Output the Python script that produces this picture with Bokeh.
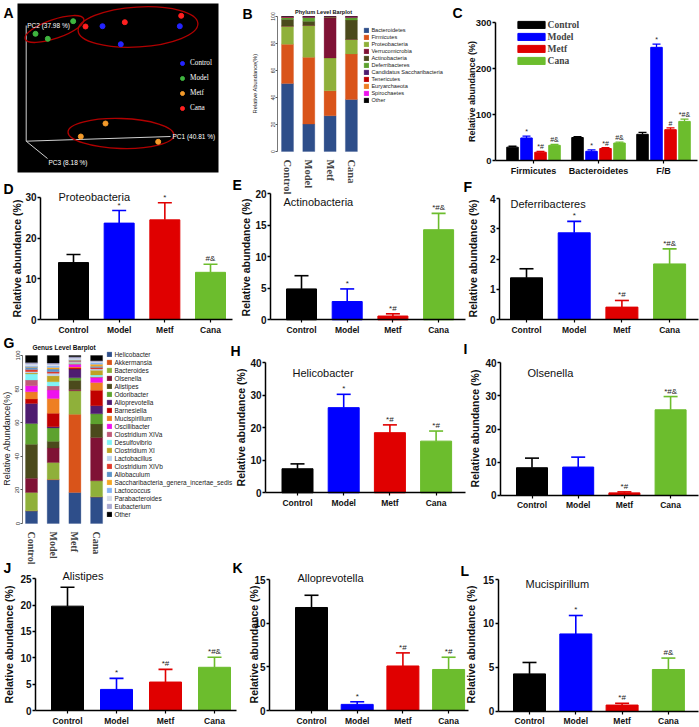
import math
from bokeh.plotting import figure
from bokeh.models import (Range1d, FixedTicker, Label, Legend, LegendItem, ColumnDataSource,
                          LinearAxis)
from bokeh.embed import file_html
from bokeh.resources import INLINE
from bokeh.core.properties import value

SANS = "Liberation Sans"
SERIF = "Liberation Serif"

# ---------------- data ----------------
groups = ["Control", "Model", "Metf", "Cana"]
group_colors = ["#000000", "#0000ff", "#e00000", "#6cbd2d"]

# A: PCoA (projected PC1/PC2/PC3 view)
pcoa_control_x = [76.3, 153.6, 94.6]
pcoa_control_y = [115.0, 115.0, 97.0]
pcoa_model_x = [47.0, 9.3, 21.6]
pcoa_model_y = [120.0, 107.4, 102.4]
pcoa_metf_x = [79.3, 54.6, 132.0]
pcoa_metf_y = [17.7, 4.7, -0.6]
pcoa_cana_x = [59.3, 98.6, 155.0]
pcoa_cana_y = [114.7, 119.0, 125.4]
pcoa_colors = ["#2424ff", "#3fb43f", "#f39a2a", "#ff2020"]
pc_axis_labels = ["PC1 (40.81 %)", "PC2 (37.98 %)", "PC3 (8.18 %)"]
pc_axis_end_x = [144.3, 0.0, 21.3]
pc_axis_end_y = [4.7, 115.7, -17.3]
ellipse_x = [28.3, 111.8, 94.8]
ellipse_y = [112.2, 114.2, 7.7]
ellipse_w = [62, 120, 106]
ellipse_h = [19, 40, 30]
ellipse_angle = [0.33, 0.06, -0.03]

# B: phylum level
phylum_names = ["Bacteroidetes", "Firmicutes", "Proteobacteria", "Verrucomicrobia",
                "Actinobacteria", "Deferribacteres", "Candidatus Saccharibacteria",
                "Tenericutes", "Euryarchaeota", "Spirochaetes", "Other"]
phylum_colors = ["#2e4e8a", "#d9541a", "#8fb03a", "#7f1235", "#4b4a1c", "#5da22e",
                 "#4e1c70", "#c00000", "#ee7f22", "#ee12ee", "#000000"]
phylum_control = [50.3, 29.2, 13.3, 0.2, 5.0, 1.2, 0.3, 0.1, 0.05, 0.05, 0.3]
phylum_model = [20.3, 49.5, 23.5, 0.2, 3.0, 2.8, 0.4, 0.1, 0.05, 0.05, 0.1]
phylum_metf = [26.5, 18.5, 24.3, 29.5, 0.5, 0.4, 0.1, 0.05, 0.05, 0.0, 0.1]
phylum_cana = [38.6, 33.7, 10.7, 0.1, 14.3, 1.8, 0.5, 0.1, 0.05, 0.05, 0.1]

# C
c_categories = ["Firmicutes", "Bacteroidetes", "F/B"]
c_control = [29, 50, 57]
c_model = [49, 20, 246]
c_metf = [18, 26, 67]
c_cana = [33, 38, 85]
c_control_err = [2, 2, 4]
c_model_err = [4, 3, 7]
c_metf_err = [2, 2, 4]
c_cana_err = [2, 2, 5]
c_control_sig = ["", "", ""]
c_model_sig = ["*", "*", "*"]
c_metf_sig = ["*#", "*#", "#"]
c_cana_sig = ["#&", "#&", "*#&"]

# single taxon panels (mean, SEM, significance marks)
proteo_mean = [14.0, 23.7, 24.5, 11.6]
proteo_err = [2.0, 3.1, 4.2, 2.0]
proteo_sig = ["", "*", "*", "#&"]
actino_mean = [4.9, 2.9, 0.6, 14.3]
actino_err = [2.1, 2.0, 0.35, 2.6]
actino_sig = ["", "*", "*#", "*#&"]
defer_mean = [1.38, 2.87, 0.41, 1.84]
defer_err = [0.30, 0.38, 0.22, 0.50]
defer_sig = ["", "*", "*#", "*#&"]
helico_mean = [7.4, 26.2, 18.5, 15.9]
helico_err = [1.5, 4.1, 2.4, 3.1]
helico_sig = ["", "*", "*#", "*#"]
olsen_mean = [8.3, 8.5, 0.7, 25.8]
olsen_err = [2.9, 3.0, 0.3, 4.0]
olsen_sig = ["", "", "*#", "*#&"]
alis_mean = [19.8, 4.0, 5.4, 8.2]
alis_err = [3.6, 2.1, 2.4, 1.9]
alis_sig = ["", "*", "*#", "*#&"]
allop_mean = [11.8, 0.7, 5.1, 4.7]
allop_err = [1.4, 0.3, 1.5, 1.4]
allop_sig = ["", "*", "*#", "*#"]
mucis_mean = [4.25, 8.8, 0.7, 4.75]
mucis_err = [1.3, 2.1, 0.2, 1.3]
mucis_sig = ["", "*", "*#", "#&"]

# G: genus level
genus_names = ["Helicobacter", "Akkermansia", "Bacteroides", "Olsenella", "Alistipes",
               "Odoribacter", "Alloprevotella", "Barnesiella", "Mucispirillum", "Oscillibacter",
               "Clostridium XIVa", "Desulfovibrio", "Clostridium XI", "Lactobacillus",
               "Clostridium XIVb", "Allobaculum", "Saccharibacteria_genera_incertae_sedis",
               "Lactococcus", "Parabacteroides", "Eubacterium", "Other"]
genus_colors = ["#2e4e8a", "#d9541a", "#8fb03a", "#7f1235", "#4b4a1c", "#5da22e", "#4e1c70",
                "#c00000", "#ee7f22", "#ee12ee", "#c05a78", "#80f2f6", "#bfa324", "#bad3ee",
                "#e0382a", "#5b93c9", "#f5a623", "#86b5f5", "#d6dce8", "#a8a8d0", "#000000"]
genus_control = [7.5, 0.1, 10.9, 8.5, 20.2, 12.3, 12.0, 2.6, 4.3, 3.6, 3.4, 3.6, 0.6, 0.8,
                 1.2, 1.4, 0.3, 0.6, 1.0, 0.9, 4.2]
genus_model = [26.0, 0.3, 10.0, 8.6, 4.0, 8.0, 0.7, 8.0, 8.8, 5.0, 2.5, 2.5, 3.5, 1.5,
               1.0, 1.5, 1.0, 0.8, 1.0, 0.8, 4.5]
genus_metf = [18.5, 46.5, 14.0, 0.8, 5.4, 1.5, 5.2, 0.6, 0.7, 1.5, 0.5, 0.3, 0.3, 0.5,
              0.3, 0.5, 0.2, 0.3, 0.8, 0.8, 0.8]
genus_cana = [15.8, 0.1, 9.5, 25.8, 8.1, 6.0, 4.8, 9.2, 4.7, 2.8, 0.6, 1.0, 2.8, 0.8,
              0.8, 0.8, 1.2, 1.0, 0.6, 0.5, 3.1]

# ---------------- canvas ----------------
OX, OY, W, H = 0, 0, 699, 727          # canvas position on the page and size (px)
A_ORIGIN = (25.7, 140.7)               # pixel position of the PCoA origin


def sx(px):
    return px - OX


def sy(py):
    return OY + H - py


p = figure(width=W, height=H,
           x_range=Range1d(OX - A_ORIGIN[0], OX + W - A_ORIGIN[0]),
           y_range=Range1d(A_ORIGIN[1] - (OY + H), A_ORIGIN[1] - OY),
           x_axis_location=None, y_axis_location=None, min_border=0,
           toolbar_location=None, output_backend="svg")
p.outline_line_color = None
p.grid.visible = False
p.background_fill_color = "white"
p.border_fill_color = "white"

XR, YR = {}, {}


def text(txt, px, py, size, style="normal", font=SANS, color="#111111", align="left",
         baseline="top", angle=0.0):
    p.add_layout(Label(x=sx(px), y=sy(py), x_units="screen", y_units="screen", text=txt,
                       text_font=font, text_font_size=size, text_font_style=style,
                       text_color=color, text_align=align, text_baseline=baseline,
                       angle=angle))


def register(name, xmap, ymap):
    XR[name] = Range1d(xmap(OX), xmap(OX + W))
    YR[name] = Range1d(ymap(OY + H), ymap(OY))
    return dict(x_range_name=name, y_range_name=name)


def prism_axes(kw, yloc, top, yticks, xbounds, xticks, xlabels, tick_size="10px",
               cat_size="8.5px"):
    yax = LinearAxis(fixed_location=yloc, bounds=(0, top), ticker=FixedTicker(ticks=yticks), **kw)
    yax.major_label_text_font = SANS
    yax.major_label_text_font_size = tick_size
    yax.major_label_text_font_style = "bold"
    yax.major_label_text_color = "#111111"
    yax.major_label_standoff = 1
    yax.axis_line_width = 1.5
    yax.major_tick_line_width = 1.5
    yax.major_tick_out = 3
    yax.major_tick_in = 0
    yax.minor_tick_line_color = None
    p.add_layout(yax, "left")
    xax = LinearAxis(fixed_location=0, bounds=xbounds, ticker=FixedTicker(ticks=xticks), **kw)
    xax.major_label_overrides = {t: lab for t, lab in zip(xticks, xlabels)}
    xax.major_label_text_font = SANS
    xax.major_label_text_font_size = cat_size
    xax.major_label_text_font_style = "bold"
    xax.major_label_text_color = "#111111"
    xax.major_label_standoff = 2
    xax.axis_line_width = 1.5
    xax.major_tick_line_width = 1.2
    xax.major_tick_out = 3
    xax.major_tick_in = 0
    xax.minor_tick_line_color = None
    p.add_layout(xax, "below")


def bar_panel(name, vals, errs, sigs, title, letter, g):
    c1, pitch, y0, ppu = g["c1"], g["pitch"], g["y0"], g["ppu"]
    kw = register(name, lambda px: (px - c1) / pitch + 1, lambda py: (y0 - py) / ppu)
    xmap = lambda px: (px - c1) / pitch + 1
    xs = [i + 1 for i in range(len(groups))]
    tops = [v + e for v, e in zip(vals, errs)]
    half = 7.0 / pitch
    src = ColumnDataSource(dict(x=xs, v=vals, top=tops, c=group_colors, lab=sigs,
                                cx0=[x - half for x in xs], cx1=[x + half for x in xs]))
    p.vbar(x="x", top="v", width=g["bw"] / pitch, fill_color="c", line_color="c",
           source=src, **kw)
    p.segment(x0="x", y0="v", x1="x", y1="top", line_color="c", line_width=1.6, source=src, **kw)
    p.segment(x0="cx0", y0="top", x1="cx1", y1="top", line_color="c", line_width=1.6,
              source=src, **kw)
    p.text(x="x", y="top", text="lab", text_align="center", text_baseline="bottom",
           y_offset=-1, text_font=value(SANS), text_font_size="8px", text_color="#222222",
           source=src, **kw)
    prism_axes(kw, xmap(g["axis"]), g["top"], g["ticks"], (xmap(g["axis"]), xmap(g["right"])),
               xs, groups)
    text(letter, g["letter"][0], g["letter"][1], "14px", "bold", color="black")
    text(title, g["title"][0], g["title"][1], "11px", baseline="middle")
    text("Relative abundance (%)", g["ylab"][0], g["ylab"][1], "10.5px", "bold",
         align="center", baseline="middle", angle=math.pi / 2)


def stacked_panel(name, names, colors, cols, title, letter, g):
    c1, pitch, y0, ppu = g["c1"], g["pitch"], g["y0"], g["ppu"]
    kw = register(name, lambda px: (px - c1) / pitch + 1, lambda py: (y0 - py) / ppu)
    xmap = lambda px: (px - c1) / pitch + 1
    xs = [i + 1 for i in range(len(groups))]
    data = {"x": xs}
    for i, n in enumerate(names):
        data[n] = [c[i] for c in cols]
    src = ColumnDataSource(data)
    rs = p.vbar_stack(names, x="x", width=g["bw"] / pitch, fill_color=colors,
                      line_color=colors, line_width=0.3, source=src, **kw)
    yax = LinearAxis(fixed_location=xmap(g["axis"]), bounds=(0, 100),
                     ticker=FixedTicker(ticks=[0, 20, 40, 60, 80, 100]), **kw)
    yax.major_label_orientation = "vertical"
    yax.major_label_text_font = SANS
    yax.major_label_text_font_size = g["tick"]
    yax.major_label_text_color = "#333333"
    yax.major_label_standoff = 1
    yax.axis_line_color = "#555555"
    yax.axis_line_width = 0.8
    yax.major_tick_line_color = "#555555"
    yax.major_tick_out = 2
    yax.major_tick_in = 0
    yax.minor_tick_line_color = None
    p.add_layout(yax, "left")
    xax = LinearAxis(fixed_location=0, ticker=FixedTicker(ticks=xs), **kw)
    xax.major_label_overrides = {t: lab for t, lab in zip(xs, groups)}
    xax.major_label_orientation = -math.pi / 2
    xax.major_label_text_font = SERIF
    xax.major_label_text_font_style = "bold"
    xax.major_label_text_font_size = g["cat"]
    xax.major_label_standoff = 2
    xax.axis_line_color = None
    xax.major_tick_line_color = None
    xax.minor_tick_line_color = None
    p.add_layout(xax, "below")
    lp = g["leg_pitch"]
    bottom = g["leg_first"] - lp / 2 + len(names) * lp
    leg = Legend(items=[LegendItem(label=n, renderers=[r]) for n, r in zip(names, rs)],
                 location=(sx(g["leg_x"] - 0.6), sy(bottom)), glyph_width=6, glyph_height=6,
                 label_height=lp, spacing=0, padding=0, margin=0, label_standoff=2,
                 label_text_font=SANS, label_text_font_size=g["leg_font"],
                 label_text_color="#222222", border_line_color=None, background_fill_alpha=0)
    p.add_layout(leg)
    text(letter, g["letter"][0], g["letter"][1], "14px", "bold", color="black")
    text(title, g["title"][0], g["title"][1], g["title_font"], "bold", align="center",
         baseline="middle")
    text("Relative Abundance(%)", g["ylab"][0], g["ylab"][1], g["ylab_font"], color="#222222",
         align="center", baseline="middle", angle=math.pi / 2)


# ---------------- Panel A ----------------
ax0 = 17 - A_ORIGIN[0]
ax1 = 218 - A_ORIGIN[0]
ay0 = A_ORIGIN[1] - 172
ay1 = A_ORIGIN[1] - 3
p.quad(left=[ax0], right=[ax1], bottom=[ay0], top=[ay1], fill_color="black", line_color=None)
p.segment(x0=[0, 0, 0], y0=[0, 0, 0], x1=pc_axis_end_x, y1=pc_axis_end_y,
          line_color="#d0d0d0", line_width=1)
p.ellipse(x=ellipse_x, y=ellipse_y, width=ellipse_w, height=ellipse_h, angle=ellipse_angle,
          fill_color=None, line_color="#b00000", line_width=1.3)
ra = []
for xs_, ys_, col in zip([pcoa_control_x, pcoa_model_x, pcoa_metf_x, pcoa_cana_x],
                         [pcoa_control_y, pcoa_model_y, pcoa_metf_y, pcoa_cana_y], pcoa_colors):
    ra.append(p.scatter(xs_, ys_, size=5, fill_color=col, line_color=col))
p.add_layout(Legend(items=[LegendItem(label=g_, renderers=[r]) for g_, r in zip(groups, ra)],
                    location=(sx(177), sy(113)), glyph_width=10, glyph_height=10,
                    label_height=10, spacing=5, padding=0, margin=0, label_standoff=3,
                    label_text_font=SERIF, label_text_font_size="7.2px",
                    label_text_color="white", border_line_color=None, background_fill_alpha=0))
for lab, ex, ey, dx, dy in zip(pc_axis_labels, pc_axis_end_x, pc_axis_end_y,
                               [2, 1, 1], [0, 0, 4]):
    p.add_layout(Label(x=ex, y=ey, x_offset=dx, y_offset=-dy, text=lab, text_font=SANS,
                       text_font_size="6.5px", text_color="white", text_baseline="middle",
                       text_align="left"))
text("A", 3, 4, "14px", "bold", color="black")

# ---------------- Panel B ----------------
stacked_panel("B", phylum_names, phylum_colors,
              [phylum_control, phylum_model, phylum_metf, phylum_cana],
              "Phylum Level Barplot", "B",
              dict(axis=277, c1=287, pitch=21.3, y0=151, ppu=1.35, bw=12, tick="5px",
                   cat="10.5px", letter=(242, 5), title=(323, 11), title_font="5.6px",
                   ylab=(254, 83), ylab_font="5.7px", leg_x=364, leg_first=30, leg_pitch=7,
                   leg_font="5.6px"))

# ---------------- Panel G ----------------
stacked_panel("G", genus_names, genus_colors,
              [genus_control, genus_model, genus_metf, genus_cana],
              "Genus Level Barplot", "G",
              dict(axis=22, c1=31, pitch=21.7, y0=523, ppu=1.68, bw=12, tick="6px",
                   cat="10px", letter=(3, 334), title=(63.5, 347), title_font="6.5px",
                   ylab=(6, 438), ylab_font="9px", leg_x=107, leg_first=354, leg_pitch=8,
                   leg_font="6.5px"))

# ---------------- Panel C ----------------
C_G0, C_GP, C_Y0, C_PPU = 533, 65, 160, 0.46
kwC = register("C", lambda px: (px - C_G0) / C_GP, lambda py: (C_Y0 - py) / C_PPU)
cmap = lambda px: (px - C_G0) / C_GP
c_series = [c_control, c_model, c_metf, c_cana]
c_errs = [c_control_err, c_model_err, c_metf_err, c_cana_err]
c_sigs = [c_control_sig, c_model_sig, c_metf_sig, c_cana_sig]
c_idx = list(range(len(c_categories)))
c_rs = []
for i, (vals, errs, sigs, col) in enumerate(zip(c_series, c_errs, c_sigs, group_colors)):
    xs = [k + (i - 1.5) * 14.0 / C_GP for k in c_idx]
    tops = [v + e for v, e in zip(vals, errs)]
    hw = 4.0 / C_GP
    src = ColumnDataSource(dict(x=xs, v=vals, top=tops, lab=sigs,
                                cx0=[x - hw for x in xs], cx1=[x + hw for x in xs]))
    c_rs.append(p.vbar(x="x", top="v", width=11.5 / C_GP, fill_color=col, line_color=col,
                       source=src, **kwC))
    p.segment(x0="x", y0="v", x1="x", y1="top", line_color=col, line_width=1.3, source=src, **kwC)
    p.segment(x0="cx0", y0="top", x1="cx1", y1="top", line_color=col, line_width=1.3,
              source=src, **kwC)
    p.text(x="x", y="top", text="lab", text_align="center", text_baseline="bottom",
           y_offset=-1, text_font=value(SANS), text_font_size="7px", text_color="#222222",
           source=src, **kwC)
prism_axes(kwC, cmap(495), 300, [0, 100, 200, 300], (cmap(495), cmap(697)), c_idx,
           c_categories, tick_size="9.5px", cat_size="9px")
p.add_layout(Legend(items=[LegendItem(label=g_, renderers=[r]) for g_, r in zip(groups, c_rs)],
                    location=(sx(513.6), sy(66.5)), glyph_width=34, glyph_height=9,
                    label_height=12, spacing=0, padding=0, margin=0, label_standoff=0,
                    label_text_font=SERIF, label_text_font_style="bold",
                    label_text_font_size="9.5px", border_line_color=None,
                    background_fill_alpha=0))
text("C", 452, 4, "14px", "bold", color="black")
text("Relative abundance (%)", 471, 91, "9px", "bold", align="center", baseline="middle",
     angle=math.pi / 2)

# ---------------- single taxon bar panels ----------------
bar_panel("D", proteo_mean, proteo_err, proteo_sig, "Proteobacteria", "D",
          dict(axis=40, c1=73, pitch=45.67, y0=319, ppu=4.067, top=30, ticks=[0, 10, 20, 30],
               right=232, bw=30, letter=(3, 180), title=(58, 196), ylab=(16, 258)))
bar_panel("E", actino_mean, actino_err, actino_sig, "Actinobacteria", "E",
          dict(axis=270, c1=301, pitch=45.7, y0=319.3, ppu=6.3, top=20,
               ticks=[0, 5, 10, 15, 20], right=465, bw=30, letter=(232, 176),
               title=(283, 201), ylab=(245, 257)))
bar_panel("F", defer_mean, defer_err, defer_sig, "Deferribacteres", "F",
          dict(axis=499, c1=526, pitch=47.7, y0=319, ppu=30.2, top=4, ticks=[0, 1, 2, 3, 4],
               right=698, bw=32, letter=(463, 178), title=(510, 203), ylab=(472, 258)))
bar_panel("H", helico_mean, helico_err, helico_sig, "Helicobacter", "H",
          dict(axis=265, c1=297, pitch=46.2, y0=492.3, ppu=3.25, top=40,
               ticks=[0, 10, 20, 30, 40], right=465, bw=31, letter=(230, 342),
               title=(292, 372), ylab=(240, 427)))
bar_panel("I", olsen_mean, olsen_err, olsen_sig, "Olsenella", "I",
          dict(axis=500, c1=531.5, pitch=46.2, y0=494.7, ppu=3.31, top=40,
               ticks=[0, 10, 20, 30, 40], right=698, bw=31, letter=(463, 340),
               title=(527, 372), ylab=(474, 428)))
bar_panel("J", alis_mean, alis_err, alis_sig, "Alistipes", "J",
          dict(axis=35, c1=67, pitch=49, y0=710, ppu=5.27, top=25,
               ticks=[0, 5, 10, 15, 20, 25], right=236, bw=32, letter=(3, 559),
               title=(62, 575), ylab=(8, 644)))
bar_panel("K", allop_mean, allop_err, allop_sig, "Alloprevotella", "K",
          dict(axis=269, c1=311, pitch=45.7, y0=710, ppu=8.73, top=15, ticks=[0, 5, 10, 15],
               right=468, bw=32, letter=(232, 559), title=(297, 577), ylab=(253, 644)))
bar_panel("L", mucis_mean, mucis_err, mucis_sig, "Mucispirillum", "L",
          dict(axis=497.7, c1=529, pitch=46.3, y0=710.7, ppu=8.78, top=15,
               ticks=[0, 5, 10, 15], right=698, bw=32, letter=(460, 562), title=(525, 583),
               ylab=(470, 644)))

p.extra_x_ranges = XR
p.extra_y_ranges = YR

open("out.html", "w").write(file_html(p, INLINE, "Gut microbiota"))
